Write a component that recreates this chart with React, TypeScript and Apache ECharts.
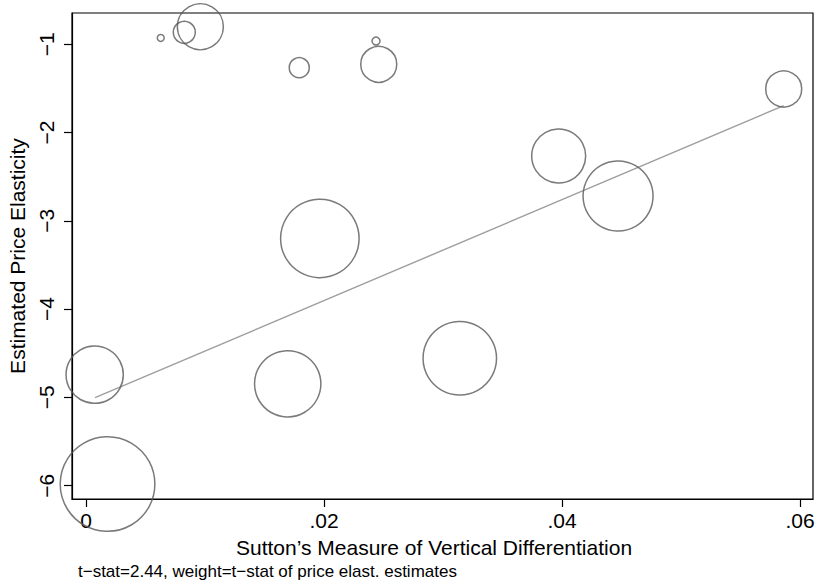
import React, { useEffect, useRef } from "react";
import * as echarts from "echarts";

// Sutton's measure of vertical differentiation (x)
const suttonX = [0.00628, 0.00826, 0.00961, 0.01792, 0.02437, 0.0246, 0.05863, 0.03972, 0.04471, 0.01965, 0.03141, 0.01695, 0.00073, 0.00181];
// Estimated price elasticity (y)
const elasticityY = [-0.929, -0.865, -0.802, -1.266, -0.964, -1.228, -1.507, -2.266, -2.719, -3.2, -4.557, -4.846, -4.743, -5.981];
// weight = t-stat of price elasticity estimates
const weights = [0.12, 1.21, 5.29, 1.0, 0.16, 3.24, 3.24, 7.29, 12.25, 15.4, 13.5, 11.0, 8.2, 22.4];

// fitted line endpoints
const fitX = [0.00076, 0.05863];
const fitY = [-5.003, -1.696];

const xTicks = [0, 0.02, 0.04, 0.06];
const yTicks = [-6, -5, -4, -3, -2, -1];

const FONT = "'Liberation Sans', Arial, Helvetica, sans-serif";

export default function App() {
  const ref = useRef<HTMLDivElement>(null);
  useEffect(() => {
    document.body.style.margin = "0";
    if (!ref.current) return;
    const chart = echarts.init(ref.current, undefined, { renderer: "svg" });
    const points = suttonX.map((x, i) => [x, elasticityY[i], weights[i]]);
    const fit = fitX.map((x, i) => [x, fitY[i]]);
    chart.setOption({
      animation: false,
      backgroundColor: "#fff",
      textStyle: { fontFamily: FONT },
      grid: {
        left: 72,
        right: 4,
        top: 13,
        bottom: 85,
        containLabel: false,
        outerBoundsMode: "none",
        show: true,
        borderColor: "#000",
        borderWidth: 1.2,
        backgroundColor: "transparent",
      },
      xAxis: {
        type: "value",
        min: -0.0011765,
        max: 0.061092,
        name: "Sutton\u2019s Measure of Vertical Differentiation",
        nameLocation: "middle",
        nameGap: 38,
        nameTextStyle: { fontSize: 21, color: "#000", fontFamily: FONT, padding: [0, 17, 0, 0] },
        axisLine: { show: true, onZero: false, lineStyle: { color: "#000", width: 1.2 } },
        axisTick: { show: true, length: 8, customValues: xTicks, lineStyle: { color: "#000", width: 1.2 } },
        axisLabel: {
          customValues: xTicks,
          fontSize: 21,
          color: "#000",
          margin: 11,
          fontFamily: FONT,
          formatter: (v: number) => (v === 0 ? "0" : String(+v.toFixed(2)).replace(/^0/, "")),
        },
        splitLine: { show: false },
      },
      yAxis: {
        type: "value",
        min: -6.1506,
        max: -0.6467,
        name: "Estimated Price Elasticity",
        nameLocation: "middle",
        nameGap: 32,
        nameRotate: 90,
        nameTextStyle: { fontSize: 21, color: "#000", fontFamily: FONT },
        axisLine: { show: true, onZero: false, lineStyle: { color: "#000", width: 1.2 } },
        axisTick: { show: true, length: 8, customValues: yTicks, lineStyle: { color: "#000", width: 1.2 } },
        axisLabel: {
          customValues: yTicks,
          rotate: 90,
          fontSize: 21,
          color: "#000",
          margin: 15,
          fontFamily: FONT,
          formatter: (v: number) => String(Math.round(v)).replace("-", "\u2212"),
        },
        splitLine: { show: false },
      },
      graphic: [
        {
          type: "text",
          left: 78,
          top: 563,
          style: {
            text: "t\u2212stat=2.44, weight=t\u2212stat of price elast. estimates",
            fontSize: 17,
            fontFamily: FONT,
            fill: "#000",
          },
        },
      ],
      series: [
        {
          type: "line",
          data: fit,
          symbol: "none",
          lineStyle: { color: "#9e9e9e", width: 1.4 },
          z: 1,
        },
        {
          type: "scatter",
          data: points,
          clip: false,
          symbol: "circle",
          symbolSize: (d: number[]) => 20 * Math.sqrt(d[2]),
          itemStyle: { color: "rgba(0,0,0,0)", borderColor: "#595959", borderWidth: 1.5 },
          z: 2,
        },
      ],
    });
    return () => chart.dispose();
  }, []);
  return <div ref={ref} style={{ width: 817, height: 584 }} />;
}
